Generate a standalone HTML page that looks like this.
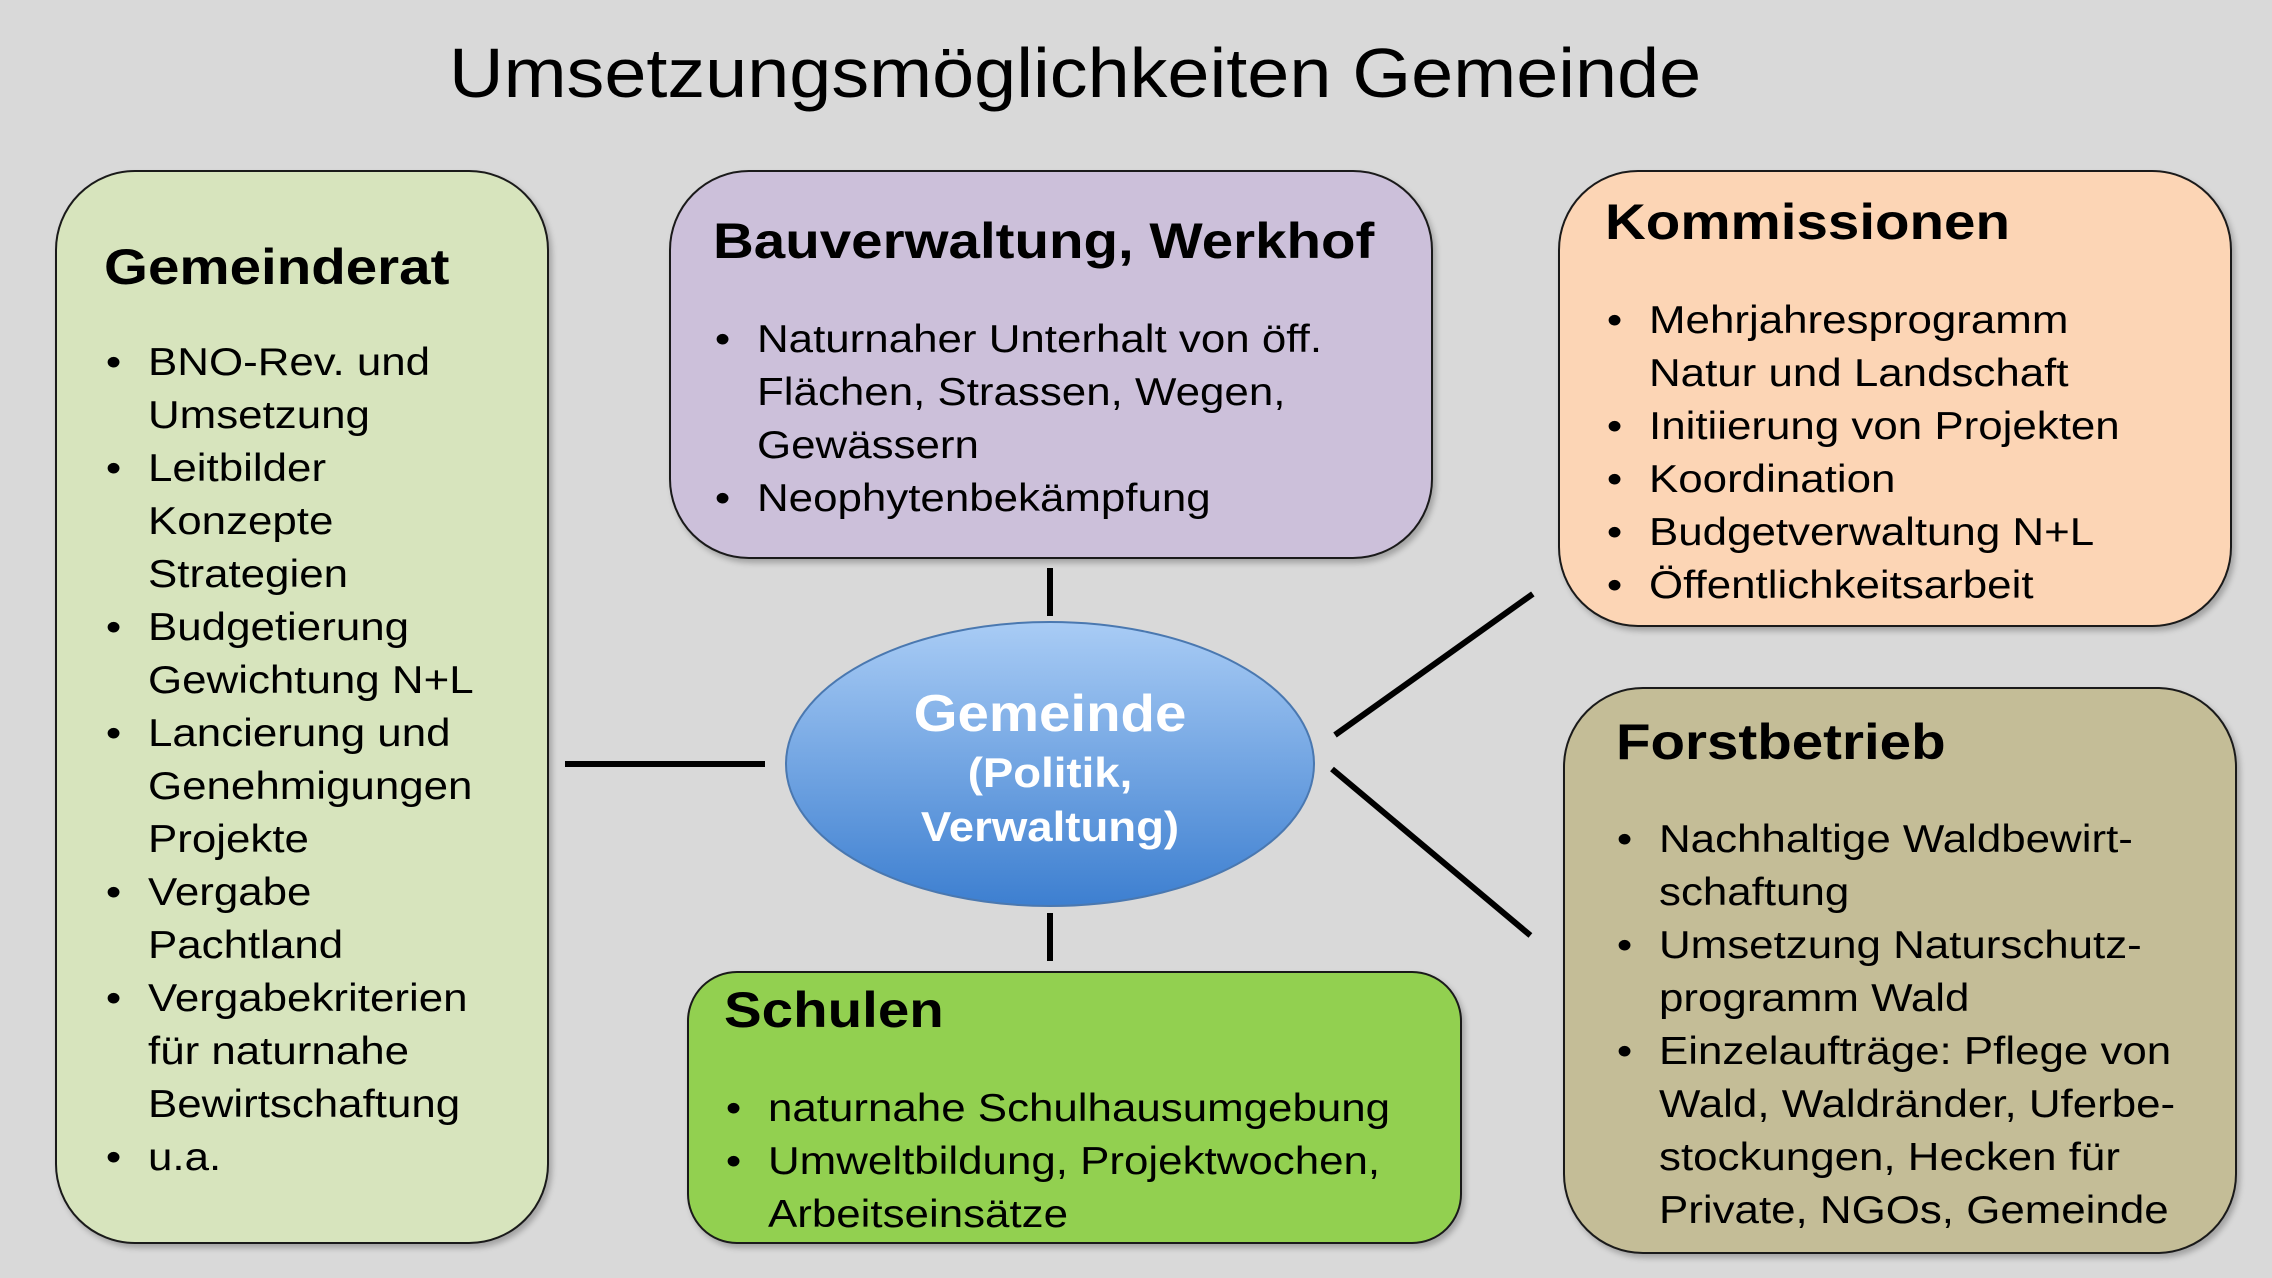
<!DOCTYPE html>
<html><head><meta charset="utf-8"><style>
body{margin:0;width:2272px;height:1278px;background:#d9d9d9;position:relative;overflow:hidden;font-family:"Liberation Sans",Arial,sans-serif;color:#000}
.box{position:absolute;border:2.5px solid #1a1a1a;border-radius:80px;box-sizing:border-box;box-shadow:3px 4px 6px rgba(0,0,0,.25)}
.h{position:absolute;font-weight:bold;font-size:50px;line-height:60px;white-space:nowrap;transform:scaleX(1.13);transform-origin:0 50%}
.l{position:absolute;font-size:39px;line-height:53px;white-space:nowrap;transform:scaleX(1.125);transform-origin:0 0}
.l div{position:relative}
.b{position:absolute;left:-37.5px}
.ln{position:absolute;background:#000;height:6px;transform-origin:0 50%}
</style></head><body>
<div style="position:absolute;left:0;width:2150px;top:28px;text-align:center;font-size:70px;line-height:90px;transform:scaleX(1.08);transform-origin:1074px 50%">Umsetzungsmöglichkeiten Gemeinde</div>

<div class="box" style="left:55px;top:170px;width:494px;height:1074px;background:#d7e4bd"></div>
<div class="box" style="left:669px;top:170px;width:764px;height:389px;background:#ccc0da"></div>
<div class="box" style="left:1558px;top:170px;width:674px;height:457px;background:#fcd5b5"></div>
<div class="box" style="left:1563px;top:687px;width:674px;height:567px;background:#c4bd97"></div>
<div class="box" style="left:687px;top:971px;width:775px;height:273px;background:#92d050;border-radius:50px"></div>

<div class="ln" style="left:565px;top:761px;width:200px"></div>
<div class="ln" style="left:1047px;top:568px;width:48px;transform:rotate(90deg);transform-origin:3px 3px"></div>
<div class="ln" style="left:1047px;top:913px;width:48px;transform:rotate(90deg);transform-origin:3px 3px"></div>
<div class="ln" style="left:1335px;top:732px;width:243px;transform:rotate(-35.5deg)"></div>
<div class="ln" style="left:1332px;top:766px;width:259px;transform:rotate(40deg)"></div>

<svg style="position:absolute;left:0;top:0" width="2272" height="1278">
<defs><linearGradient id="g" x1="0" y1="0" x2="0" y2="1"><stop offset="0" stop-color="#a9ccf5"/><stop offset="1" stop-color="#3d7fd0"/></linearGradient></defs>
<ellipse cx="1050" cy="764" rx="264" ry="142" fill="url(#g)" stroke="#4a78b0" stroke-width="2"/>
<g transform="translate(1050 0) scale(1.085 1) translate(-1050 0)">
<text x="1050" y="731" text-anchor="middle" font-family="Liberation Sans" font-weight="bold" font-size="52" fill="#fff">Gemeinde</text>
<text x="1050" y="787" text-anchor="middle" font-family="Liberation Sans" font-weight="bold" font-size="42" fill="#fff">(Politik,</text>
<text x="1050" y="841" text-anchor="middle" font-family="Liberation Sans" font-weight="bold" font-size="42" fill="#fff">Verwaltung)</text>
</g>
</svg>

<div class="h" style="left:104px;top:237px">Gemeinderat</div>
<div class="l" style="left:148px;top:336px">
<div><span class="b">•</span>BNO-Rev. und</div><div>Umsetzung</div>
<div><span class="b">•</span>Leitbilder</div><div>Konzepte</div><div>Strategien</div>
<div><span class="b">•</span>Budgetierung</div><div>Gewichtung N+L</div>
<div><span class="b">•</span>Lancierung und</div><div>Genehmigungen</div><div>Projekte</div>
<div><span class="b">•</span>Vergabe</div><div>Pachtland</div>
<div><span class="b">•</span>Vergabekriterien</div><div>für naturnahe</div><div>Bewirtschaftung</div>
<div><span class="b">•</span>u.a.</div>
</div>

<div class="h" style="left:713px;top:211px">Bauverwaltung, Werkhof</div>
<div class="l" style="left:757px;top:313px">
<div><span class="b">•</span>Naturnaher Unterhalt von öff.</div><div>Flächen, Strassen, Wegen,</div><div>Gewässern</div>
<div><span class="b">•</span>Neophytenbekämpfung</div>
</div>

<div class="h" style="left:1605px;top:192px">Kommissionen</div>
<div class="l" style="left:1649px;top:294px">
<div><span class="b">•</span>Mehrjahresprogramm</div><div>Natur und Landschaft</div>
<div><span class="b">•</span>Initiierung von Projekten</div>
<div><span class="b">•</span>Koordination</div>
<div><span class="b">•</span>Budgetverwaltung N+L</div>
<div><span class="b">•</span>Öffentlichkeitsarbeit</div>
</div>

<div class="h" style="left:1616px;top:712px">Forstbetrieb</div>
<div class="l" style="left:1659px;top:813px">
<div><span class="b">•</span>Nachhaltige Waldbewirt-</div><div>schaftung</div>
<div><span class="b">•</span>Umsetzung Naturschutz-</div><div>programm Wald</div>
<div><span class="b">•</span>Einzelaufträge: Pflege von</div><div>Wald, Waldränder, Uferbe-</div><div>stockungen, Hecken für</div><div>Private, NGOs, Gemeinde</div>
</div>

<div class="h" style="left:724px;top:980px">Schulen</div>
<div class="l" style="left:768px;top:1082px">
<div><span class="b">•</span>naturnahe Schulhausumgebung</div>
<div><span class="b">•</span>Umweltbildung, Projektwochen,</div><div>Arbeitseinsätze</div>
</div>
</body></html>
